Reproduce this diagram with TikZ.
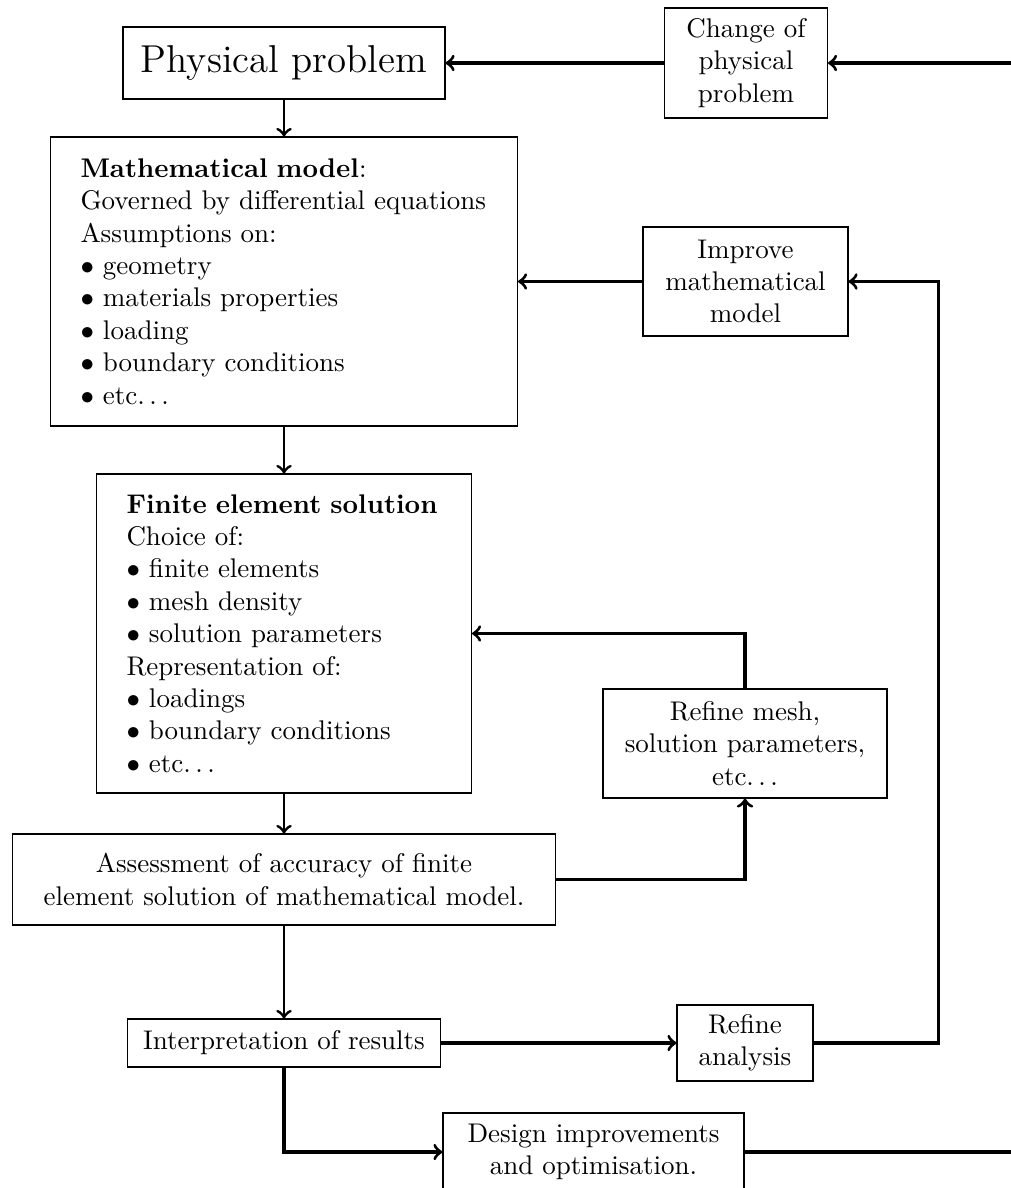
\documentclass[tikz,border=0pt]{standalone}
\usetikzlibrary{positioning}
\newlength\pxu
\setlength\pxu{0.3704pt}
\tikzset{
  box/.style={draw, inner sep=0pt, align=center},
  lbox/.style={draw, inner xsep=30\pxu, inner ysep=0pt, align=left},
  flow/.style={->, line width=1.1pt},
  fb/.style={->, very thick}
}
\newcommand{\etcdots}{etc$\ldots$}
\begin{document}
\begin{tikzpicture}[x=\pxu, y=-\pxu]
\useasboundingbox (0,0) rectangle (1011,1188);
\clip (0,0) rectangle (1011,1188);

\node[box, minimum width=322\pxu, minimum height=72\pxu, font=\Large] (phys) at (284,63) {Physical problem};
\node[box, minimum width=163\pxu, minimum height=110\pxu] (change) at (746,63) {Change of\\physical\\problem};

\node[lbox, text width=407\pxu, minimum height=289\pxu] (math) at (284,281.5) {%
\textbf{Mathematical model}:\\
Governed by differential equations\\
Assumptions on:\\
$\bullet$ geometry\\
$\bullet$ materials properties\\
$\bullet$ loading\\
$\bullet$ boundary conditions\\
$\bullet$ \etcdots};

\node[box, minimum width=205\pxu, minimum height=109\pxu] (improve) at (745.5,281.5) {Improve\\mathematical\\model};

\node[lbox, text width=315\pxu, minimum height=319\pxu] (fe) at (284,633.5) {%
\textbf{Finite element solution}\\
Choice of:\\
$\bullet$ finite elements\\
$\bullet$ mesh density\\
$\bullet$ solution parameters\\
Representation of:\\
$\bullet$ loadings\\
$\bullet$ boundary conditions\\
$\bullet$ \etcdots};

\node[box, minimum width=284\pxu, minimum height=109\pxu] (rmesh) at (745,743.5) {Refine mesh,\\solution parameters,\\\etcdots};

\node[box, minimum width=543\pxu, minimum height=91\pxu] (assess) at (284,879.5) {Assessment of accuracy of finite\\element solution of mathematical model.};

\node[box, minimum width=313\pxu, minimum height=48\pxu] (interp) at (284,1043) {Interpretation of results};

\node[box, minimum width=136\pxu, minimum height=76\pxu] (ranal) at (745,1043) {Refine\\analysis};

\node[box, minimum width=301\pxu, minimum height=78\pxu] (design) at (593.5,1152) {Design improvements\\and optimisation.};

% main flow
\draw[flow] (phys) -- (math);
\draw[flow] (math) -- (fe);
\draw[flow] (fe) -- (assess);
\draw[flow] (assess) -- (interp);

% feedback loops
\draw[fb] (change) -- (phys);
\draw[fb] (improve.west) -- (improve.west -| math.east);
\draw[fb] (assess.east) -| (rmesh.south);
\draw[fb] (rmesh.north) |- (fe.east);
\draw[fb] (interp) -- (ranal);
\draw[fb] (ranal.east) -- ++(125,0) |- (improve.east);
\draw[fb] (interp.south) |- (design.west);
\draw[fb] (design.east) -- ++(300,0) |- (change.east);
\end{tikzpicture}
\end{document}
